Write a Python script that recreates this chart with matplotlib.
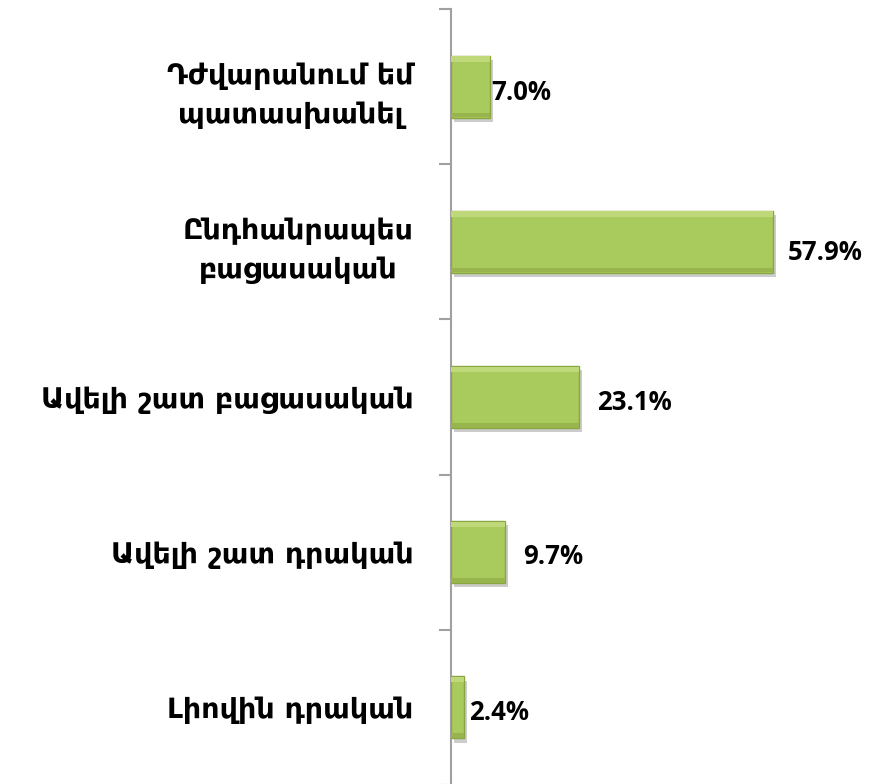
import matplotlib.pyplot as plt
import matplotlib.patheffects as pe
from matplotlib.ticker import FixedLocator

# categories top to bottom
categories = [
    'Դժվարանում եմ\nպատասխանել',
    'Ընդհանրապես\nբացասական',
    'Ավելի շատ բացասական',
    'Ավելի շատ դրական',
    'Լիովին դրական',
]
values = [7.0, 57.9, 23.1, 9.7, 2.4]
value_labels = ['7.0%', '57.9%', '23.1%', '9.7%', '2.4%']

# label offsets in pixels (dx, dy) as placed in the original
label_dx = [1, 15, 18, 18, 5]
label_dy = [-6, -11, -5, -4, -5]

W, H = 882, 784
fig = plt.figure(figsize=(W / 100, H / 100), dpi=100)
ax = fig.add_axes([451 / W, -1 / H, 1 - 451 / W, 776 / H])

y = list(range(len(values)))
bar_h = 0.40

bars = ax.barh(y, values, height=bar_h, color='#a9ca5c', edgecolor='#8aa640',
               linewidth=1.0, zorder=3)
for b in bars:
    b.set_path_effects([pe.SimplePatchShadow(offset=(2, -3), shadow_rgbFace='#000000', alpha=0.2),
                        pe.Normal()])

# soft bevel: lighter top edge, darker bottom edge
ax.barh([i - bar_h / 2 + 0.022 for i in y], values, height=0.035, color='#bfd97a',
        linewidth=0, zorder=4)
ax.barh([i + bar_h / 2 - 0.018 for i in y], values, height=0.03, color='#98b54d',
        linewidth=0, zorder=4)

ax.set_xlim(0, 77.5)
ax.set_ylim(len(values) - 0.5, -0.5)

for i, (v, lab) in enumerate(zip(values, value_labels)):
    ax.annotate(lab, xy=(v, i), xytext=(label_dx[i] * 0.72, label_dy[i] * 0.72),
                textcoords='offset points', ha='left', va='center',
                fontsize=18.5, fontweight='bold', family=['Open Sans', 'DejaVu Sans'],
                color='black', zorder=5)

for s in ['top', 'right', 'bottom']:
    ax.spines[s].set_visible(False)
ax.spines['left'].set_color('#a0a0a0')
ax.spines['left'].set_linewidth(1.5)
ax.set_xticks([])

ax.set_yticks(y)
ax.set_yticklabels(categories, family=['DejaVu Sans'], fontweight='bold',
                   fontsize=20.5, multialignment='center', linespacing=1.5)
ax.yaxis.set_minor_locator(FixedLocator([i + 0.5 for i in range(-1, len(values))]))
ax.tick_params(axis='y', which='major', length=0, pad=27)
ax.tick_params(axis='y', which='minor', length=9, width=1.5, color='#a0a0a0')

fig.savefig('out.png', dpi=100, facecolor='white')
